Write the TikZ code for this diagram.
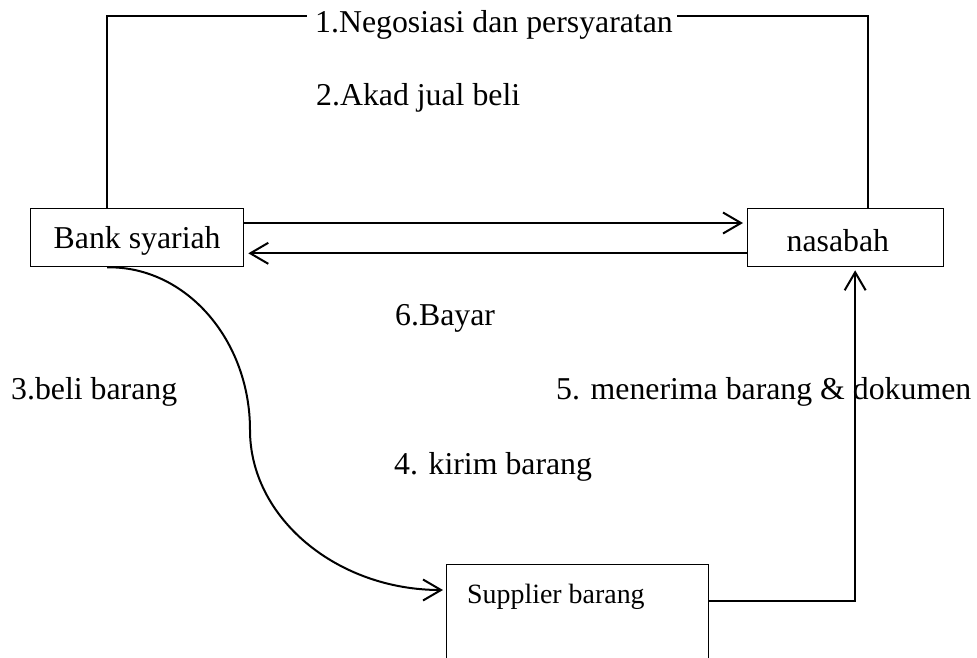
\documentclass[tikz,border=0pt]{standalone}
\usepackage{fontspec}
\setmainfont{Liberation Serif}
\usetikzlibrary{arrows.meta,calc}
\begin{document}
\begin{tikzpicture}[x=1pt,y=-1pt,
  every node/.style={font=\fontsize{31.8}{38}\selectfont},
  box/.style={draw,line width=1.3pt,inner ysep=0pt},
  lbl/.style={inner sep=0pt,anchor=base west},
  thin line/.style={line width=1.5pt},
  arr/.style={line width=2pt,-{Straight Barb[length=18pt,width=21pt,line width=2pt]}}]
\useasboundingbox (0,0) rectangle (977,657);
% boxes
\node[box,anchor=north west,minimum width=213pt,text height=40pt,text depth=18pt] (bank) at (30,208) {Bank syariah};
\node[box,anchor=north west,inner xsep=39pt,text width=118pt,align=left,text height=43pt,text depth=15pt] (nas) at (747,208) {nasabah};
\node[box,anchor=north west,minimum width=262pt,minimum height=110pt] (sup) at (446,564) {};
\node[lbl,font=\fontsize{27.9}{33}\selectfont] (suptxt) at (467,603) {Supplier barang};
% labels
\node[lbl] (t1) at (315,32) {1.Negosiasi dan persyaratan};
\node[lbl] (t2) at (316,105) {2.Akad jual beli};
\node[lbl] (t6) at (395,325) {6.Bayar};
\node[lbl] (t3) at (11,399) {3.beli barang};
\node[lbl] (t5) at (556,399) {5. menerima barang \& dokumen};
\node[lbl] (t4) at (394,474) {4. kirim barang};
% top connector
\coordinate (tl) at (107,16);
\coordinate (tr) at (868,16);
\draw[thin line] ($(bank.north west)+(77,0)$) |- ($(t1.west |- tl)+(-8,0)$);
\draw[thin line] ($(t1.east |- tr)+(4,0)$) -| ($(nas.north west)+(121,0)$);
% arrows between bank and nasabah
\draw[arr] ($(bank.north east)+(0,15)$) -- ($(nas.north west)+(-4,15)$);
\draw[arr] ($(nas.south west)+(0,-14)$) -- ($(bank.south east)+(4,-14)$);
% curve bank -> supplier
\coordinate (mid) at (250,430);
\draw[arr] ($(bank.south west)+(77,0)$) .. controls (186,266) and (250,340) .. (mid)
  .. controls (250,518) and (337,590) .. ($(sup.north west)+(-3,26)$);
% supplier -> nasabah
\draw[arr] ($(sup.north east)+(0,37)$) -| ($(nas.south)+(9.5,3)$);
\end{tikzpicture}
\end{document}
